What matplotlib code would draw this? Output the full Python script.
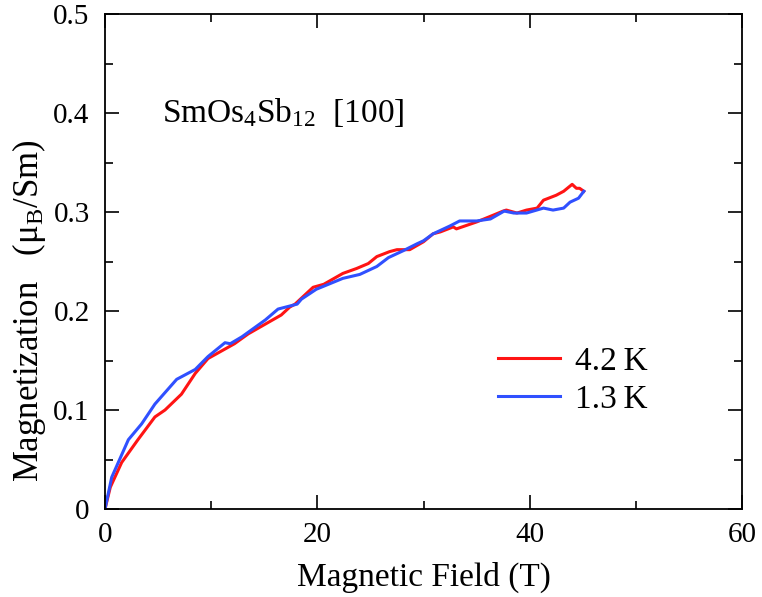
import matplotlib
matplotlib.use("Agg")
import matplotlib.pyplot as plt
from matplotlib.ticker import MultipleLocator

plt.rcParams['font.family'] = ['Liberation Serif', 'DejaVu Serif']
plt.rcParams['mathtext.fontset'] = 'custom'
plt.rcParams['mathtext.rm'] = 'Liberation Serif'
plt.rcParams['mathtext.it'] = 'Liberation Serif:italic'

# 4.2 K curve (field in T, magnetization in mu_B/Sm)
field_42 = [0, 0.5, 1.57, 3.1, 4.7, 5.65, 7.2, 8.5, 9.7, 12.2, 13.5, 16.6, 17.4, 17.9,
            19.6, 20.6, 22.4, 23.7, 24.8, 25.6, 26.8, 27.5, 28.7, 30.0, 30.9, 31.6,
            32.8, 33.1, 35.0, 36.6, 37.5, 37.8, 38.8, 39.7, 40.7, 41.3, 42.5, 43.2,
            44.0, 44.4, 44.7, 45.1]
mag_42 = [0, 0.022, 0.047, 0.070, 0.093, 0.100, 0.116, 0.137, 0.152, 0.167, 0.177,
          0.196, 0.204, 0.207, 0.224, 0.227, 0.238, 0.243, 0.248, 0.255, 0.260, 0.262,
          0.262, 0.270, 0.278, 0.280, 0.285, 0.283, 0.290, 0.297, 0.301, 0.302, 0.299,
          0.302, 0.304, 0.312, 0.317, 0.321, 0.328, 0.324, 0.324, 0.321]

# 1.3 K curve
field_13 = [0, 0.63, 2.2, 3.45, 4.7, 6.75, 8.5, 9.7, 11.3, 11.8, 12.9, 15.1, 16.3,
            18.1, 18.5, 19.9, 22.4, 24.0, 25.6, 26.7, 28.1, 29.4, 30.0, 30.9, 32.5,
            33.4, 35.0, 36.3, 37.6, 38.5, 39.7, 41.3, 42.2, 43.2, 43.8, 44.6, 45.1]
mag_13 = [0, 0.032, 0.070, 0.086, 0.106, 0.131, 0.141, 0.154, 0.168, 0.167, 0.174,
          0.191, 0.202, 0.207, 0.212, 0.222, 0.233, 0.237, 0.245, 0.254, 0.261, 0.268,
          0.271, 0.278, 0.286, 0.291, 0.291, 0.293, 0.301, 0.299, 0.299, 0.304, 0.302,
          0.304, 0.310, 0.314, 0.321]

x_ticks = [0, 20, 40, 60]
y_ticks = [0, 0.1, 0.2, 0.3, 0.4, 0.5]
y_ticklabels = ['0', '0.1', '0.2', '0.3', '0.4', '0.5']

fig = plt.figure(figsize=(7.62, 5.97), dpi=100)
ax = fig.add_axes([0.1378, 0.1474, 0.836, 0.829])

ax.plot(field_42, mag_42, color='#ff1414', lw=2.2, label='4.2\u2009K')
ax.plot(field_13, mag_13, color='#3050ff', lw=2.2, label='1.3\u2009K')

ax.set_xlim(0, 60)
ax.set_ylim(0, 0.5)
ax.set_xticks(x_ticks)
ax.set_xticklabels([str(t) for t in x_ticks])
ax.set_yticks(y_ticks)
ax.set_yticklabels(y_ticklabels)
ax.xaxis.set_minor_locator(MultipleLocator(10))
ax.yaxis.set_minor_locator(MultipleLocator(0.05))

ax.tick_params(which='both', direction='in', top=True, right=True, labelsize=21,
               width=1.2)
ax.tick_params(axis='x', pad=9)
ax.tick_params(axis='y', pad=11)
ax.tick_params(which='major', length=10)
ax.tick_params(which='minor', length=6)
for s in ax.spines.values():
    s.set_linewidth(1.3)

ax.set_xlabel('Magnetic Field (T)', fontsize=24, labelpad=10)
ax.set_ylabel('Magnetization   (\u03bc$_\\mathrm{B}$/Sm)', fontsize=25)
ax.yaxis.set_label_coords(-0.089, 0.40)

ax.text(5.4, 0.391, 'SmOs$_4$Sb$_{12}$  [100]', fontsize=24, va='baseline')

ax.legend(loc='upper left', bbox_to_anchor=(0.617, 0.329), frameon=False, fontsize=24,
          handlelength=1.86, handletextpad=0.45, labelspacing=0.22,
          borderpad=0, borderaxespad=0)

fig.savefig('out.png', dpi=100)
